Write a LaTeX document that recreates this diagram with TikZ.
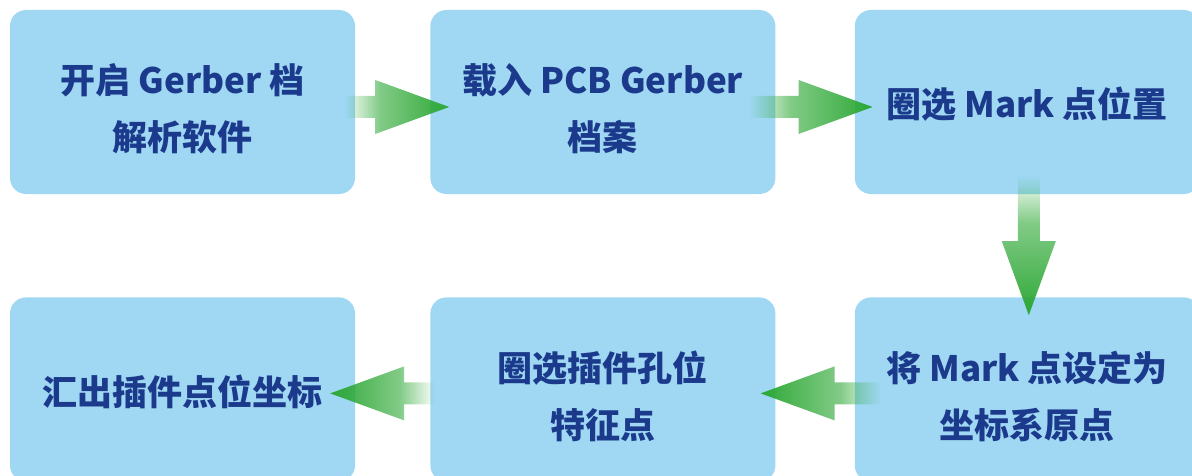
\documentclass[tikz,border=0pt]{standalone}
\usepackage{fontspec}
\newfontfamily\cjk{Noto Sans CJK SC}
\usetikzlibrary{positioning, calc, fadings}
\definecolor{boxblue}{HTML}{A0D8F4}
\definecolor{textblue}{HTML}{1B3A8C}
\definecolor{arrowgreen}{HTML}{2EA836}
\newcommand{\lowline}[2][7pt]{\raisebox{-#1}[\height][\depth]{#2}}
\begin{tikzfadingfrompicture}[name=fade right]
  \fill[transparent!100] (-50bp,-50bp) rectangle (-25bp,50bp);
  \shade[left color=transparent!100, right color=transparent!40] (-25bp,-50bp) rectangle (-8bp,50bp);
  \shade[left color=transparent!40, right color=transparent!0] (-8bp,-50bp) rectangle (25bp,50bp);
  \fill[transparent!0] (25bp,-50bp) rectangle (50bp,50bp);
\end{tikzfadingfrompicture}
\begin{tikzfadingfrompicture}[name=fade left]
  \fill[transparent!100] (25bp,-50bp) rectangle (50bp,50bp);
  \shade[right color=transparent!100, left color=transparent!40] (8bp,-50bp) rectangle (25bp,50bp);
  \shade[right color=transparent!40, left color=transparent!0] (-25bp,-50bp) rectangle (8bp,50bp);
  \fill[transparent!0] (-50bp,-50bp) rectangle (-25bp,50bp);
\end{tikzfadingfrompicture}
\begin{tikzfadingfrompicture}[name=fade down]
  \fill[transparent!100] (-50bp,25bp) rectangle (50bp,50bp);
  \shade[top color=transparent!100, bottom color=transparent!40] (-50bp,8bp) rectangle (50bp,25bp);
  \shade[top color=transparent!40, bottom color=transparent!0] (-50bp,-25bp) rectangle (50bp,8bp);
  \fill[transparent!0] (-50bp,-50bp) rectangle (50bp,-25bp);
\end{tikzfadingfrompicture}
% fat arrow: fading, tail, tip
\newcommand{\fatarrow}[3]{%
  \coordinate (hb) at ($(#3)!74pt!(#2)$);
  \fill[arrowgreen, path fading=#1]
    ($(#2)!11pt!90:(#3)$) -- ($(hb)!11pt!90:(#3)$) -- ($(hb)!27pt!90:(#3)$)
    -- (#3) -- ($(hb)!27pt!-90:(#3)$) -- ($(hb)!11pt!-90:(#3)$)
    -- ($(#2)!11pt!-90:(#3)$) -- cycle;
}

\begin{document}
\begin{tikzpicture}[x=1pt, y=1pt, box/.style = {fill=boxblue,
                        rounded corners=16pt, minimum width=345pt,
                        minimum height=184pt, text=textblue, align=center,
                        font=\cjk\bfseries\fontsize{35}{57}\selectfont}]
        \clip (0,0) rectangle (1192,475);

        \node[box] (open) at (182.5,373) {\lowline{开启 Gerber 档}\\\lowline{解析软件}};
        \node[box] (load) [right=75pt of open] {\lowline{载入 PCB Gerber}\\\lowline{档案}};
        \node[box] (mark) [right=79pt of load] {\lowline[2pt]{圈选 Mark 点位置}};

        \node[box] (origin) [below=103pt of mark] {\lowline{将 Mark 点设定为}\\\lowline{坐标系原点}};
        \node[box] (hole) [left=79pt of origin] {\lowline{圈选插件孔位}\\\lowline{特征点}};
        \node[box] (export) [left=75pt of hole] {\lowline[2pt]{汇出插件点位坐标}};

        \coordinate (t1) at ($(open.east)+(-11,-5)$);
        \coordinate (p1) at ($(load.west)+(19,-5)$);
        \coordinate (t2) at ($(load.east)+(-27,-5)$);
        \coordinate (p2) at ($(mark.west)+(18,-5)$);
        \coordinate (t3) at ($(mark.south)+(1.5,19)$);
        \coordinate (p3) at ($(origin.north)+(1.5,-18)$);
        \coordinate (t4) at ($(origin.west)+(26,-4)$);
        \coordinate (p4) at ($(hole.east)+(-15,-4)$);
        \coordinate (t5) at ($(hole.west)+(5,-4)$);
        \coordinate (p5) at ($(export.east)+(-25,-4)$);

        \fatarrow{fade right}{t1}{p1}
        \fatarrow{fade right}{t2}{p2}
        \fatarrow{fade down}{t3}{p3}
        \fatarrow{fade left}{t4}{p4}
        \fatarrow{fade left}{t5}{p5}
    \end{tikzpicture}
\end{document}
